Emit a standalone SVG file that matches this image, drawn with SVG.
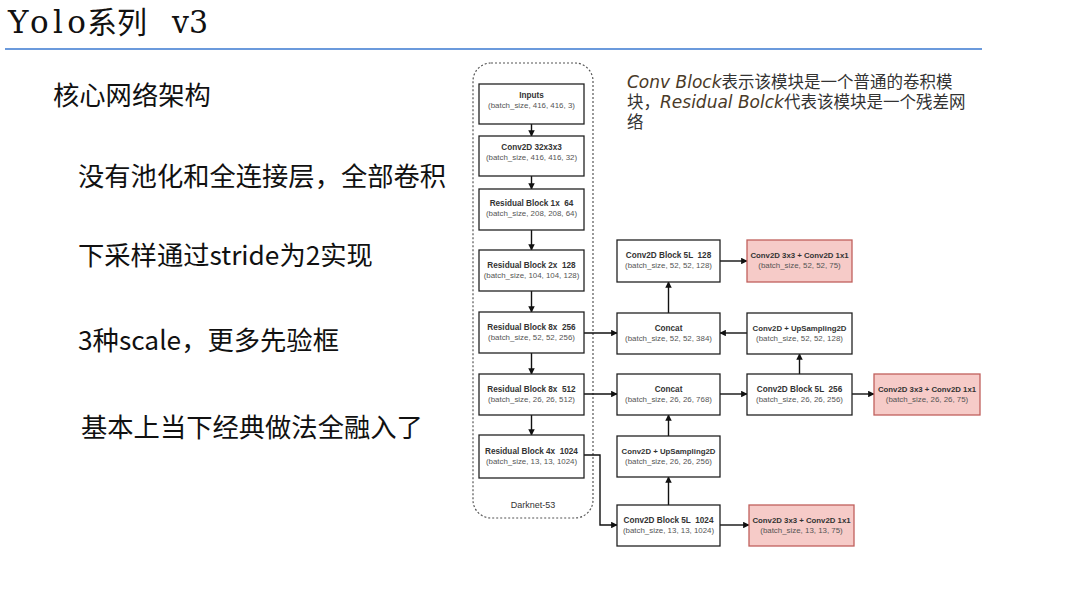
<svg xmlns="http://www.w3.org/2000/svg" width="1082" height="597" viewBox="0 0 1082 597">
<defs>
<marker id="arr" viewBox="0 0 10 10" refX="9" refY="5" markerWidth="6.5" markerHeight="6.5" orient="auto" markerUnits="userSpaceOnUse">
<path d="M0,0 L10,5 L0,10 z" fill="#111"/>
</marker>
</defs>
<style>
.bg{fill:#fff}
.box{fill:#fff;stroke:#222;stroke-width:1.3}
.red{fill:#f6cbc8;stroke:#c0605c;stroke-width:1.3}
.t{font-family:"Liberation Sans",Arial,sans-serif;font-size:8.2px;font-weight:bold;fill:#333;text-anchor:middle;white-space:pre}
.tr{font-size:7.8px}
.b{font-family:"Liberation Sans",Arial,sans-serif;font-size:7.9px;fill:#555;text-anchor:middle}
.con{fill:none;stroke:#111;stroke-width:1.4;marker-end:url(#arr)}
.big{font-family:"Noto Sans CJK SC","Noto Sans",sans-serif;font-size:26.3px;fill:#111}
.note{font-family:"Noto Sans CJK SC",sans-serif;font-size:16.5px;fill:#333}
.it{font-family:"DejaVu Sans",sans-serif;font-style:italic;font-size:17px;fill:#4a3a28}
</style>
<rect class="bg" x="0" y="0" width="1082" height="597"/>

<g id="title">
<text y="33" font-family="'DejaVu Serif','Noto Sans CJK SC',serif" font-size="31" fill="#111"><tspan x="8" textLength="78" lengthAdjust="spacing">Yolo</tspan><tspan x="87" font-family="'Noto Sans CJK SC',sans-serif" font-size="30">系列</tspan><tspan x="172" textLength="36" lengthAdjust="spacingAndGlyphs">v3</tspan></text>
<line x1="5" y1="49" x2="982" y2="49" stroke="#3a78d0" stroke-width="1.3"/>
</g>

<g id="bullets">
<text class="big" x="53" y="105">核心网络架构</text>
<text class="big" x="78" y="186">没有池化和全连接层，全部卷积</text>
<text class="big" x="78" y="265">下采样通过stride为2实现</text>
<text class="big" x="78" y="350">3种scale，更多先验框</text>
<text class="big" x="81" y="437">基本上当下经典做法全融入了</text>
</g>

<g id="note">
<text class="note" x="627" y="88"><tspan class="it">Conv Block</tspan>表示该模块是一个普通的卷积模</text>
<text class="note" x="627" y="108">块，<tspan class="it">Residual Bolck</tspan>代表该模块是一个残差网</text>
<text class="note" x="627" y="128">络</text>
</g>

<g id="darknet53">
<rect x="473" y="63" width="120" height="455" rx="18" ry="18" fill="none" stroke="#555" stroke-width="1.2" stroke-dasharray="2 2"/>
<text x="533" y="508" font-family="'Liberation Sans',Arial,sans-serif" font-size="9" fill="#333" text-anchor="middle">Darknet-53</text>
</g>

<g id="connectors">
<line class="con" x1="531.5" y1="124" x2="531.5" y2="136"/>
<line class="con" x1="531.5" y1="176" x2="531.5" y2="189"/>
<line class="con" x1="531.5" y1="230" x2="531.5" y2="250"/>
<line class="con" x1="531.5" y1="291" x2="531.5" y2="312"/>
<line class="con" x1="531.5" y1="353" x2="531.5" y2="374"/>
<line class="con" x1="531.5" y1="415" x2="531.5" y2="435"/>
<line class="con" x1="584" y1="333" x2="617" y2="333"/>
<line class="con" x1="584" y1="394" x2="617" y2="394"/>
<polyline class="con" points="584,455 600,455 600,525 617,525"/>
<line class="con" x1="668.5" y1="505" x2="668.5" y2="477"/>
<line class="con" x1="668.5" y1="436" x2="668.5" y2="415"/>
<line class="con" x1="720" y1="394" x2="747" y2="394"/>
<line class="con" x1="852" y1="394" x2="874" y2="394"/>
<line class="con" x1="799.5" y1="374" x2="799.5" y2="354"/>
<line class="con" x1="747" y1="333" x2="720" y2="333"/>
<line class="con" x1="668.5" y1="313" x2="668.5" y2="282"/>
<line class="con" x1="720" y1="261" x2="747" y2="261"/>
<line class="con" x1="720" y1="525" x2="749" y2="525"/>
</g>

<g id="inputs">
<rect class="box" x="479" y="84" width="105" height="40"/>
<text class="t" x="531.5" y="98">Inputs</text>
<text class="b" x="531.5" y="108">(batch_size, 416, 416, 3)</text>
</g>
<g id="conv2d-32">
<rect class="box" x="479" y="136" width="105" height="40"/>
<text class="t" x="531.5" y="150">Conv2D 32x3x3</text>
<text class="b" x="531.5" y="160">(batch_size, 416, 416, 32)</text>
</g>
<g id="res-1x64">
<rect class="box" x="479" y="189" width="105" height="41"/>
<text class="t" x="531.5" y="206" xml:space="preserve">Residual Block 1x  64</text>
<text class="b" x="531.5" y="216">(batch_size, 208, 208, 64)</text>
</g>
<g id="res-2x128">
<rect class="box" x="479" y="250" width="105" height="41"/>
<text class="t" x="531.5" y="268" xml:space="preserve">Residual Block 2x  128</text>
<text class="b" x="531.5" y="278">(batch_size, 104, 104, 128)</text>
</g>
<g id="res-8x256">
<rect class="box" x="479" y="312" width="105" height="41"/>
<text class="t" x="531.5" y="330" xml:space="preserve">Residual Block 8x  256</text>
<text class="b" x="531.5" y="340">(batch_size, 52, 52, 256)</text>
</g>
<g id="res-8x512">
<rect class="box" x="479" y="374" width="105" height="41"/>
<text class="t" x="531.5" y="392" xml:space="preserve">Residual Block 8x  512</text>
<text class="b" x="531.5" y="402">(batch_size, 26, 26, 512)</text>
</g>
<g id="res-4x1024">
<rect class="box" x="479" y="435" width="105" height="43"/>
<text class="t" x="531.5" y="454" xml:space="preserve">Residual Block 4x  1024</text>
<text class="b" x="531.5" y="464">(batch_size, 13, 13, 1024)</text>
</g>

<g id="block5l-128">
<rect class="box" x="617" y="240" width="103" height="42"/>
<text class="t" x="668.5" y="258" xml:space="preserve">Conv2D Block 5L  128</text>
<text class="b" x="668.5" y="268">(batch_size, 52, 52, 128)</text>
</g>
<g id="concat-52">
<rect class="box" x="617" y="313" width="103" height="41"/>
<text class="t" x="668.5" y="331">Concat</text>
<text class="b" x="668.5" y="341">(batch_size, 52, 52, 384)</text>
</g>
<g id="concat-26">
<rect class="box" x="617" y="374" width="103" height="41"/>
<text class="t" x="668.5" y="392">Concat</text>
<text class="b" x="668.5" y="402">(batch_size, 26, 26, 768)</text>
</g>
<g id="up-26">
<rect class="box" x="617" y="436" width="103" height="41"/>
<text class="t tr" x="668.5" y="454">Conv2D + UpSampling2D</text>
<text class="b" x="668.5" y="464">(batch_size, 26, 26, 256)</text>
</g>
<g id="block5l-1024">
<rect class="box" x="617" y="505" width="103" height="41"/>
<text class="t" x="668.5" y="523" xml:space="preserve">Conv2D Block 5L  1024</text>
<text class="b" x="668.5" y="533">(batch_size, 13, 13, 1024)</text>
</g>

<g id="out-52">
<rect class="red" x="747" y="240" width="105" height="42"/>
<text class="t tr" x="799.5" y="258">Conv2D 3x3 + Conv2D 1x1</text>
<text class="b" x="799.5" y="268">(batch_size, 52, 52, 75)</text>
</g>
<g id="up-52">
<rect class="box" x="747" y="313" width="105" height="41"/>
<text class="t tr" x="799.5" y="331">Conv2D + UpSampling2D</text>
<text class="b" x="799.5" y="341">(batch_size, 52, 52, 128)</text>
</g>
<g id="block5l-256">
<rect class="box" x="747" y="374" width="105" height="41"/>
<text class="t" x="799.5" y="392" xml:space="preserve">Conv2D Block 5L  256</text>
<text class="b" x="799.5" y="402">(batch_size, 26, 26, 256)</text>
</g>
<g id="out-26">
<rect class="red" x="874" y="374" width="106" height="41"/>
<text class="t tr" x="927" y="392">Conv2D 3x3 + Conv2D 1x1</text>
<text class="b" x="927" y="402">(batch_size, 26, 26, 75)</text>
</g>
<g id="out-13">
<rect class="red" x="749" y="505" width="105" height="41"/>
<text class="t tr" x="801.5" y="523">Conv2D 3x3 + Conv2D 1x1</text>
<text class="b" x="801.5" y="533">(batch_size, 13, 13, 75)</text>
</g>
</svg>
